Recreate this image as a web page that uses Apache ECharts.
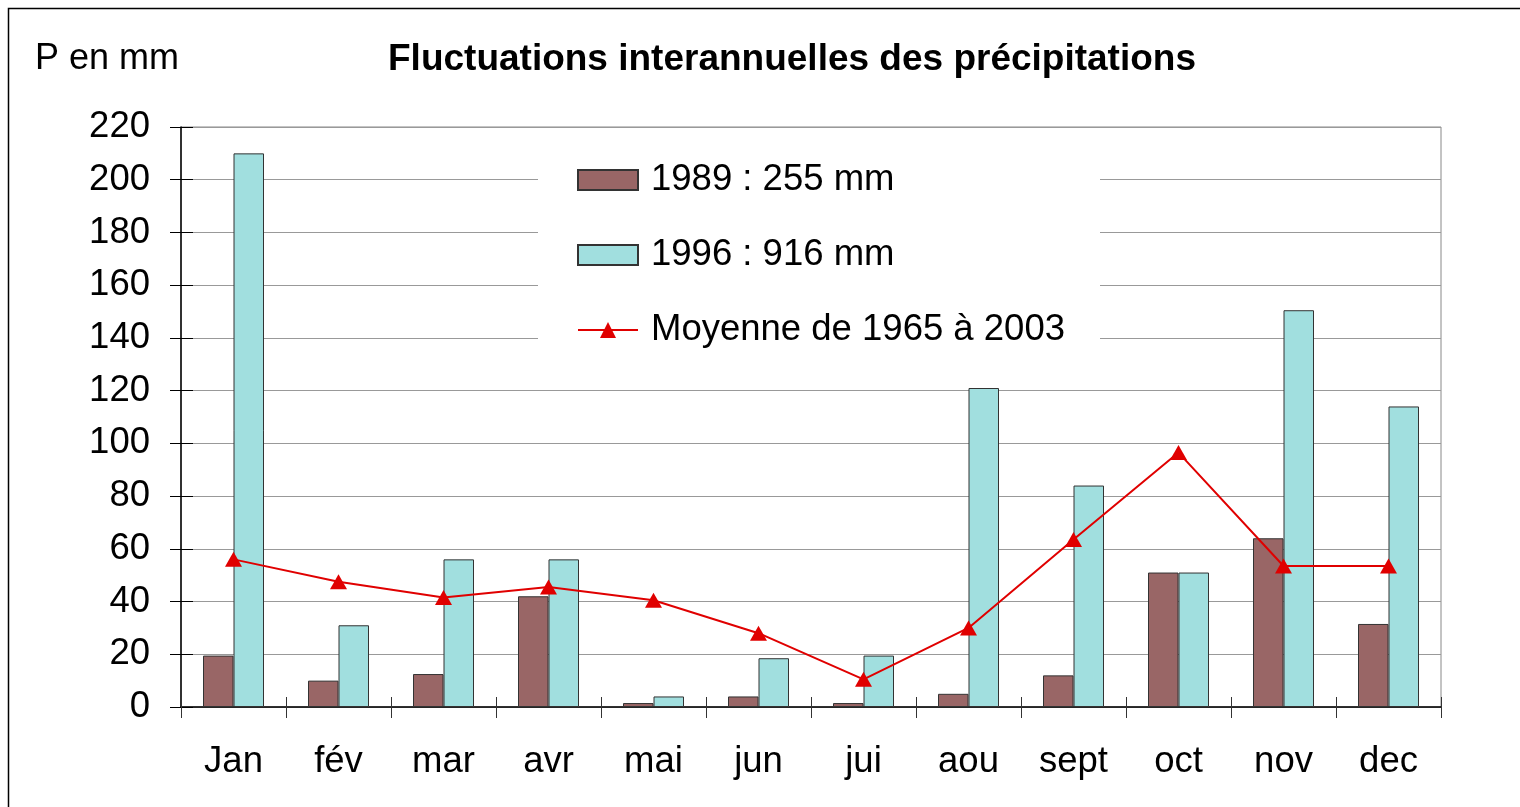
<!DOCTYPE html>
<html>
<head>
<meta charset="utf-8">
<script src="https://cdn.jsdelivr.net/npm/echarts@6/dist/echarts.min.js"></script>
<style>
  html, body { margin: 0; padding: 0; background: #fff; }
  #chart { width: 1520px; height: 807px; }
</style>
</head>
<body>
<div id="chart"></div>
<script>
// Monthly precipitation (mm)
const months = ['Jan', 'fév', 'mar', 'avr', 'mai', 'jun', 'jui', 'aou', 'sept', 'oct', 'nov', 'dec'];
const rain1989 = [19.5, 10, 12.5, 42, 1.5, 4, 1.5, 5, 12, 51, 64, 31.5];
const rain1996 = [210, 31, 56, 56, 4, 18.5, 19.5, 121, 84, 51, 150.5, 114];
const mean1965_2003 = [56, 47.5, 41.5, 45.5, 40.5, 28, 10.5, 30, 63.5, 96.5, 53.5, 53.5];
const yTicks = { min: 0, max: 220, interval: 20 };

const seriesNames = ['1989 : 255 mm', '1996 : 916 mm', 'Moyenne de 1965 à 2003'];
const FONT = '"Liberation Sans", Arial, sans-serif';

const chart = echarts.init(document.getElementById('chart'), null, { renderer: 'canvas' });

chart.setOption({
  animation: false,
  backgroundColor: '#fff',
  textStyle: { fontFamily: FONT },
  graphic: [
    {
      type: 'rect', silent: true, z: 0,
      shape: { x: 8.5, y: 8.5, width: 1600, height: 900 },
      style: { fill: 'none', stroke: '#000', lineWidth: 1.5 }
    },
    {
      type: 'text', left: 35, top: 41, z: 10,
      style: { text: 'P en mm', font: '36px ' + FONT, fill: '#000' }
    }
  ],
  title: {
    text: 'Fluctuations interannuelles des précipitations',
    left: 787, textAlign: 'center', top: 36,
    textStyle: { fontFamily: FONT, fontSize: 37, fontWeight: 'bold', color: '#000' }
  },
  legend: {
    orient: 'vertical',
    left: 538, top: 140,
    padding: [20, 35, 11, 39],
    backgroundColor: '#fff',
    itemWidth: 60, itemHeight: 20, itemGap: 35,
    z: 20,
    textStyle: { fontFamily: FONT, fontSize: 36.5, color: '#000', lineHeight: 40, padding: [0, 0, 0, 8] },
    data: [
      { name: seriesNames[0], icon: 'rect' },
      { name: seriesNames[1], icon: 'rect' },
      { name: seriesNames[2] }
    ]
  },
  grid: {
    left: 181, right: 79, top: 127, bottom: 100,
    show: true, borderColor: '#888', borderWidth: 1, backgroundColor: 'transparent'
  },
  xAxis: [
    {
      type: 'category', data: months,
      axisLine: { lineStyle: { color: '#000', width: 1.5 } },
      axisTick: { show: true, length: 11, lineStyle: { color: '#333' } },
      axisLabel: { fontFamily: FONT, fontSize: 36.5, color: '#000', margin: 36 }
    },
    {
      type: 'category', data: months, position: 'bottom',
      axisLine: { show: false },
      axisTick: { show: true, inside: true, length: 10, lineStyle: { color: '#333' } },
      axisLabel: { show: false }
    }
  ],
  yAxis: [
    {
      type: 'value', min: yTicks.min, max: yTicks.max, interval: yTicks.interval,
      axisLine: { show: true, lineStyle: { color: '#000', width: 1.5 } },
      axisTick: { show: true, length: 11, lineStyle: { color: '#000' } },
      axisLabel: { fontFamily: FONT, fontSize: 36.5, color: '#000', margin: 31 },
      splitLine: { show: true, lineStyle: { color: '#999', width: 1 } }
    },
    {
      type: 'value', min: yTicks.min, max: yTicks.max, interval: yTicks.interval, position: 'left',
      axisLine: { show: false },
      axisTick: { show: true, inside: true, length: 12, lineStyle: { color: '#000' } },
      axisLabel: { show: false },
      splitLine: { show: false }
    }
  ],
  series: [
    {
      name: seriesNames[0], type: 'bar', data: rain1989,
      barWidth: 30.5, barGap: '0%',
      itemStyle: { color: '#996666', borderColor: '#333', borderWidth: 1 },
      z: 2
    },
    {
      name: seriesNames[1], type: 'bar', data: rain1996,
      barWidth: 30.5, barGap: '0%',
      itemStyle: { color: '#a1dfdf', borderColor: '#333', borderWidth: 1 },
      z: 2
    },
    {
      name: seriesNames[2], type: 'line', data: mean1965_2003,
      symbol: 'triangle', symbolSize: [17, 15],
      lineStyle: { color: '#e00000', width: 2 },
      itemStyle: { color: '#e00000' },
      z: 5
    }
  ]
});
</script>
</body>
</html>
